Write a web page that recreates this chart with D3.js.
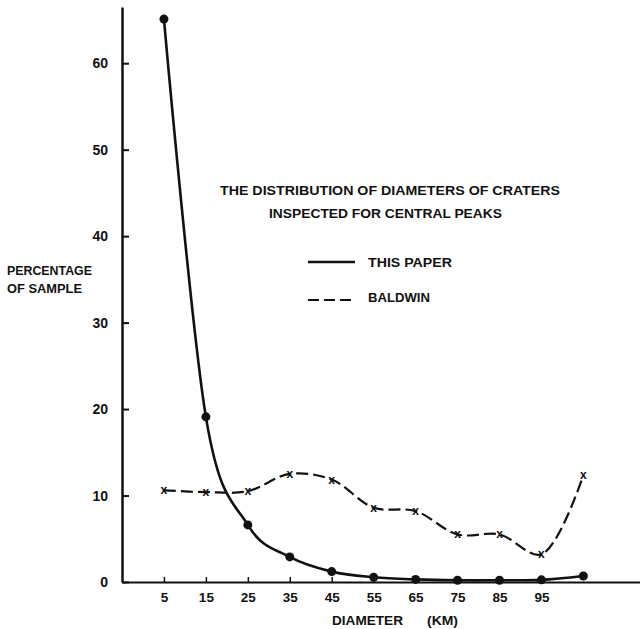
<!DOCTYPE html>
<html>
<head>
<meta charset="utf-8">
<script src="https://cdn.jsdelivr.net/npm/d3@7"></script>
<style>
  body { margin: 0; background: #fff; }
  text { font-family: "Liberation Sans", Arial, sans-serif; font-weight: bold; fill: #111; }
</style>
</head>
<body>
<div id="chart"></div>
<script>
// diameters (km) - last point sits past the 95 tick, unlabeled
const diameters = [5, 15, 25, 35, 45, 55, 65, 75, 85, 95, 105];
const thisPaper = [65.1, 19.1, 6.6, 2.9, 1.2, 0.55, 0.3, 0.2, 0.2, 0.25, 0.7];
const baldwin = [10.6, 10.4, 10.5, 12.5, 11.85, 8.6, 8.2, 5.5, 5.5, 3.2, 12.35];
const xTickValues = [5, 15, 25, 35, 45, 55, 65, 75, 85, 95];
const yTickValues = [0, 10, 20, 30, 40, 50, 60];

const svg = d3.select("#chart").append("svg")
    .attr("width", 640)
    .attr("height", 629);

const x = d3.scaleLinear().domain([-5, 118.5]).range([122, 640]);
const y = d3.scaleLinear().domain([0, 66.5]).range([582, 7]);

// y axis, ticks pointing inward
const yAxis = svg.append("g")
    .attr("transform", "translate(122,0)")
    .call(d3.axisLeft(y).tickValues(yTickValues).tickSizeInner(-7).tickSizeOuter(0).tickPadding(14));
yAxis.select(".domain").attr("stroke", "#111").attr("stroke-width", 2.5);
yAxis.selectAll(".tick line").attr("stroke", "#111").attr("stroke-width", 2);
yAxis.selectAll(".tick text")
    .style("font-size", "14px")
    .attr("fill", "#111");

// x axis
const xAxis = svg.append("g")
    .attr("transform", "translate(0,582)")
    .call(d3.axisBottom(x).tickValues(xTickValues).tickSizeInner(-5).tickSizeOuter(0).tickPadding(10));
xAxis.select(".domain").attr("stroke", "#111").attr("stroke-width", 2.2);
xAxis.selectAll(".tick line").attr("stroke", "#111").attr("stroke-width", 1.5);
xAxis.selectAll(".tick text")
    .style("font-size", "13.5px")
    .attr("fill", "#111");

const pts = (vals) => diameters.map((d, i) => [d, vals[i]]);

// Baldwin dashed curve
svg.append("path")
    .datum(pts(baldwin))
    .attr("fill", "none")
    .attr("stroke", "#111")
    .attr("stroke-width", 2.2)
    .attr("stroke-dasharray", "12,5")
    .attr("d", d3.line().x(d => x(d[0])).y(d => y(d[1])).curve(d3.curveCatmullRom.alpha(0.5)));

svg.append("g")
    .selectAll("text")
    .data(pts(baldwin))
    .enter().append("text")
    .attr("x", d => x(d[0]))
    .attr("y", d => y(d[1]) + 4)
    .attr("text-anchor", "middle")
    .style("font-size", "12px")
    .text("x");

// this paper solid curve
svg.append("path")
    .datum(pts(thisPaper))
    .attr("fill", "none")
    .attr("stroke", "#111")
    .attr("stroke-width", 2.6)
    .attr("d", d3.line().x(d => x(d[0])).y(d => y(d[1])).curve(d3.curveCatmullRom.alpha(0)));

svg.append("g")
    .selectAll("circle")
    .data(pts(thisPaper))
    .enter().append("circle")
    .attr("cx", d => x(d[0]))
    .attr("cy", d => y(d[1]))
    .attr("r", 4.5)
    .attr("fill", "#111");

// title
svg.append("text")
    .attr("x", 220).attr("y", 195)
    .attr("textLength", 340)
    .attr("lengthAdjust", "spacingAndGlyphs")
    .style("font-size", "13.5px")
    .text("THE DISTRIBUTION OF DIAMETERS OF CRATERS");
svg.append("text")
    .attr("x", 269).attr("y", 218)
    .attr("textLength", 233)
    .attr("lengthAdjust", "spacingAndGlyphs")
    .style("font-size", "13.5px")
    .text("INSPECTED FOR CENTRAL PEAKS");

// legend
svg.append("line")
    .attr("x1", 308).attr("x2", 355).attr("y1", 262).attr("y2", 262)
    .attr("stroke", "#111").attr("stroke-width", 2.6);
svg.append("text")
    .attr("x", 368).attr("y", 267)
    .attr("textLength", 84)
    .attr("lengthAdjust", "spacingAndGlyphs")
    .style("font-size", "13.5px")
    .text("THIS PAPER");
svg.append("line")
    .attr("x1", 308).attr("x2", 355).attr("y1", 300).attr("y2", 300)
    .attr("stroke", "#111").attr("stroke-width", 2)
    .attr("stroke-dasharray", "11,5");
svg.append("text")
    .attr("x", 368).attr("y", 302)
    .attr("textLength", 62)
    .attr("lengthAdjust", "spacingAndGlyphs")
    .style("font-size", "13.5px")
    .text("BALDWIN");

// y label
svg.append("text")
    .attr("x", 7).attr("y", 275)
    .attr("textLength", 85)
    .attr("lengthAdjust", "spacingAndGlyphs")
    .style("font-size", "13.5px")
    .text("PERCENTAGE");
svg.append("text")
    .attr("x", 7).attr("y", 293)
    .attr("textLength", 75)
    .attr("lengthAdjust", "spacingAndGlyphs")
    .style("font-size", "13.5px")
    .text("OF SAMPLE");

// x label
svg.append("text")
    .attr("x", 332).attr("y", 625)
    .attr("textLength", 71)
    .attr("lengthAdjust", "spacingAndGlyphs")
    .style("font-size", "13.5px")
    .text("DIAMETER");
svg.append("text")
    .attr("x", 427).attr("y", 625)
    .attr("textLength", 31)
    .attr("lengthAdjust", "spacingAndGlyphs")
    .style("font-size", "13.5px")
    .text("(KM)");
</script>
</body>
</html>
